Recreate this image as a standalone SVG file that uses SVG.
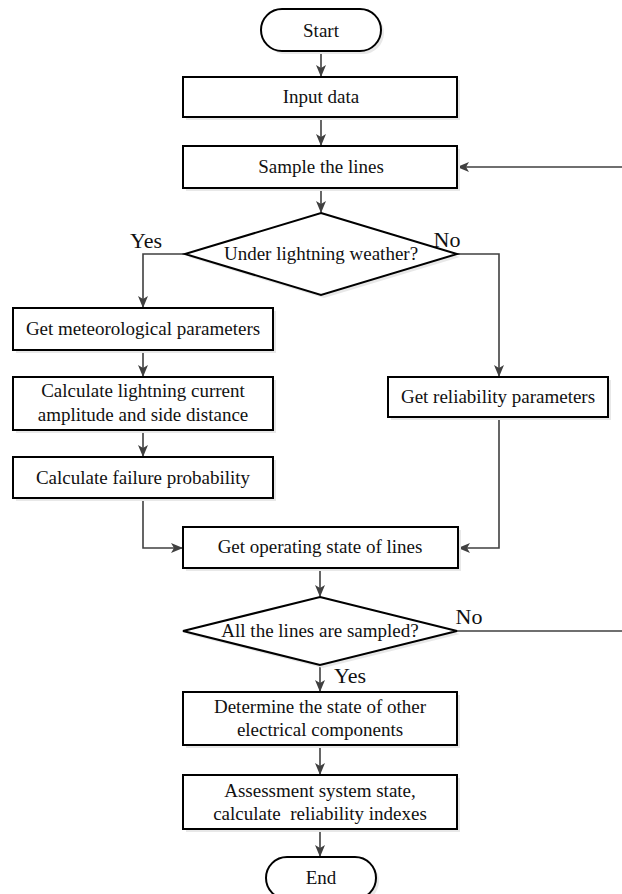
<svg xmlns="http://www.w3.org/2000/svg" width="622" height="894" viewBox="0 0 622 894">
<style>
.box{fill:#fff;stroke:#000;stroke-width:2}
.sh{fill:#e8e8e8;stroke:none}
.t{font-family:"Liberation Serif","Times New Roman",serif;font-size:19px;fill:#111;text-anchor:middle}
.lbl{font-family:"Liberation Serif","Times New Roman",serif;font-size:22px;fill:#111;text-anchor:middle}
.c{fill:none;stroke:#404040;stroke-width:1.6}
</style>
<defs>
<marker id="ah" markerWidth="12" markerHeight="10" refX="11" refY="5" orient="auto" markerUnits="userSpaceOnUse">
<path d="M0,0 L12,5 L0,10 L3,5 Z" fill="#404040"/>
</marker>
</defs>
<rect width="622" height="894" fill="#fff"/>
<g id="connectors">
<path class="c" d="M321,51 V76" marker-end="url(#ah)"/>
<path class="c" d="M321,117 V145" marker-end="url(#ah)"/>
<path class="c" d="M321,188 V212" marker-end="url(#ah)"/>
<path class="c" d="M185,254 H143 V307" marker-end="url(#ah)"/>
<path class="c" d="M143,350 V376" marker-end="url(#ah)"/>
<path class="c" d="M143,430 V456" marker-end="url(#ah)"/>
<path class="c" d="M143,498 V548 H182" marker-end="url(#ah)"/>
<path class="c" d="M457,254 H499 V376" marker-end="url(#ah)"/>
<path class="c" d="M499,417 V548 H459" marker-end="url(#ah)"/>
<path class="c" d="M320,568 V596" marker-end="url(#ah)"/>
<path class="c" d="M457,631 H628 V167 H458" marker-end="url(#ah)"/>
<path class="c" d="M320,665 V691" marker-end="url(#ah)"/>
<path class="c" d="M320,745 V774" marker-end="url(#ah)"/>
<path class="c" d="M320,829 V856" marker-end="url(#ah)"/>
</g>
<g id="start">
<rect class="sh" x="264" y="12" width="120" height="42" rx="21"/>
<rect class="box" x="261" y="9" width="120" height="42" rx="21"/>
<text class="t" x="321" y="37">Start</text>
</g>
<g id="input">
<rect class="sh" x="186" y="80" width="274" height="40"/>
<rect class="box" x="183" y="77" width="274" height="40"/>
<text class="t" x="321" y="103">Input data</text>
</g>
<g id="sample">
<rect class="sh" x="186" y="149" width="274" height="42"/>
<rect class="box" x="183" y="146" width="274" height="42"/>
<text class="t" x="321" y="173">Sample the lines</text>
</g>
<g id="lightning">
<polygon class="sh" points="324,216 460,257 324,298 188,257"/>
<polygon class="box" points="321,213 457,254 321,295 185,254"/>
<text class="t" x="321" y="260">Under lightning weather?</text>
<text class="lbl" x="146" y="248">Yes</text>
<text class="lbl" x="447" y="247">No</text>
</g>
<g id="meteo">
<rect class="sh" x="16" y="311" width="260" height="42"/>
<rect class="box" x="13" y="308" width="260" height="42"/>
<text class="t" x="143" y="335">Get meteorological parameters</text>
</g>
<g id="calc">
<rect class="sh" x="16" y="380" width="260" height="53"/>
<rect class="box" x="13" y="377" width="260" height="53"/>
<text class="t" x="143" y="397">Calculate lightning current</text>
<text class="t" x="143" y="421">amplitude and side distance</text>
</g>
<g id="failure">
<rect class="sh" x="16" y="460" width="260" height="41"/>
<rect class="box" x="13" y="457" width="260" height="41"/>
<text class="t" x="143" y="484">Calculate failure probability</text>
</g>
<g id="reliability">
<rect class="sh" x="391" y="380" width="220" height="40"/>
<rect class="box" x="388" y="377" width="220" height="40"/>
<text class="t" x="498" y="403">Get reliability parameters</text>
</g>
<g id="operating">
<rect class="sh" x="186" y="530" width="275" height="41"/>
<rect class="box" x="183" y="527" width="275" height="41"/>
<text class="t" x="320" y="553">Get operating state of lines</text>
</g>
<g id="allsampled">
<polygon class="sh" points="323,600 460,634 323,668 186,634"/>
<polygon class="box" points="320,597 457,631 320,665 183,631"/>
<text class="t" x="320" y="637">All the lines are sampled?</text>
<text class="lbl" x="469" y="624">No</text>
<text class="lbl" x="350" y="683">Yes</text>
</g>
<g id="determine">
<rect class="sh" x="186" y="695" width="274" height="53"/>
<rect class="box" x="183" y="692" width="274" height="53"/>
<text class="t" x="320" y="713">Determine the state of other</text>
<text class="t" x="320" y="736">electrical components</text>
</g>
<g id="assessment">
<rect class="sh" x="186" y="778" width="274" height="54"/>
<rect class="box" x="183" y="775" width="274" height="54"/>
<text class="t" x="320" y="797">Assessment system state,</text>
<text class="t" x="320" y="820" xml:space="preserve">calculate  reliability indexes</text>
</g>
<g id="end">
<rect class="sh" x="269" y="860" width="110" height="42" rx="21"/>
<rect class="box" x="266" y="857" width="110" height="42" rx="21"/>
<text class="t" x="321" y="884">End</text>
</g>
</svg>
